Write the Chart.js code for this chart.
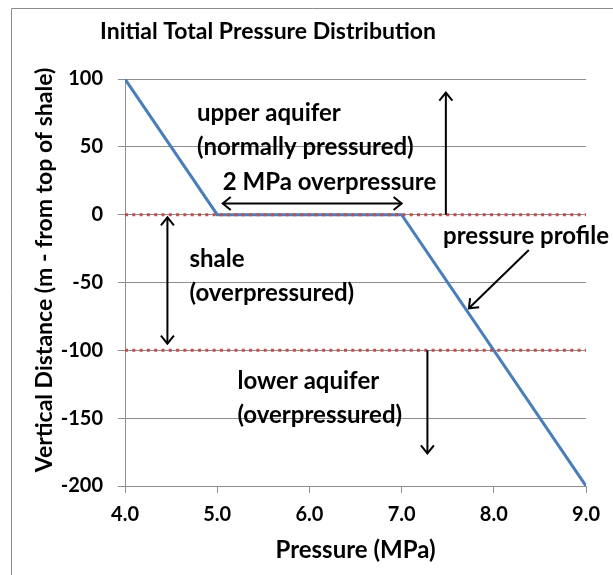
<!DOCTYPE html>
<html>
<head>
<meta charset="utf-8">
<script src="https://cdn.jsdelivr.net/npm/chart.js@4.4.1/dist/chart.umd.min.js"></script>
<style>
    body { margin: 0; background: #ffffff; }
    #wrap { width: 613px; height: 575px; }
</style>
</head>
<body>
<div id="wrap"><canvas id="pressureChart" width="613" height="575"></canvas></div>
<script>
// Pressure profile (MPa vs m from top of shale)
const profilePressure = [4.0, 5.0, 7.0, 9.0];
const profileDepth = [100, 0, 0, -200];

// Formation boundaries (dotted red lines)
const boundaryPressure = [4.0, 9.0];
const shaleTop = [0, 0];
const shaleBottom = [-100, -100];

// Axis ticks
const xTicks = [4.0, 5.0, 6.0, 7.0, 8.0, 9.0];
const yTicks = [100, 50, 0, -50, -100, -150, -200];

// Annotation labels: [text, pressure, depth]
const labelText = ["upper aquifer", "(normally pressured)", "2 MPa overpressure",
    "shale", "(overpressured)", "lower aquifer", "(overpressured)", "pressure profile"];
const labelX = [4.78, 4.78, 5.06, 4.70, 4.70, 5.22, 5.22, 7.45];
const labelY = [74.5, 49.4, 23.6, -33, -58, -123, -148, -16];

// Arrows: from (x1,y1) to (x2,y2), heads at start and/or end
const arrowX1 = [4.46, 5.06, 7.48, 7.28, 8.38];
const arrowY1 = [-2, 8.3, 0, -100, -26];
const arrowX2 = [4.46, 7.0, 7.48, 7.28, 7.73];
const arrowY2 = [-95, 8.3, 90, -176, -69];
const arrowStart = [true, true, false, false, false];

const FONT = "Lato, 'Open Sans', sans-serif";

function toPoints(xs, ys) {
    return xs.map((x, i) => ({ x: x, y: ys[i] }));
}

function drawHead(ctx, fromX, fromY, tipX, tipY) {
    const ang = Math.atan2(tipY - fromY, tipX - fromX);
    const len = 8, half = 6.5;
    const bx = tipX - len * Math.cos(ang), by = tipY - len * Math.sin(ang);
    const nx = -Math.sin(ang) * half, ny = Math.cos(ang) * half;
    ctx.beginPath();
    ctx.moveTo(bx + nx, by + ny);
    ctx.lineTo(tipX, tipY);
    ctx.lineTo(bx - nx, by - ny);
    ctx.stroke();
}

const decorations = {
    id: "decorations",
    afterDraw(chart) {
        const ctx = chart.ctx;
        const xs = chart.scales.x;
        const ys = chart.scales.y;
        const area = chart.chartArea;

        ctx.save();

        // outer frame (only left and top visible)
        ctx.strokeStyle = "#8c8c8c";
        ctx.lineWidth = 1;
        ctx.beginPath();
        ctx.moveTo(11.5, 580);
        ctx.lineTo(11.5, 8.5);
        ctx.lineTo(620, 8.5);
        ctx.stroke();

        ctx.fillStyle = "#000000";

        // title
        ctx.font = "bold 23px " + FONT;
        ctx.textAlign = "center";
        ctx.textBaseline = "middle";
        ctx.fillText("Initial Total Pressure Distribution", 268, 32);

        // axis titles
        ctx.font = "bold 24px " + FONT;
        ctx.fillText("Pressure (MPa)", (area.left + area.right) / 2, 550);
        ctx.font = "bold 23px " + FONT;
        ctx.save();
        ctx.translate(45, 270);
        ctx.rotate(-Math.PI / 2);
        ctx.fillText("Vertical Distance (m - from top of shale)", 0, 0);
        ctx.restore();

        // annotation texts
        ctx.font = "bold 24px " + FONT;
        ctx.textAlign = "left";
        labelText.forEach((t, i) => {
            ctx.fillText(t, xs.getPixelForValue(labelX[i]), ys.getPixelForValue(labelY[i]));
        });

        // arrows
        ctx.strokeStyle = "#000000";
        ctx.lineWidth = 2;
        arrowX1.forEach((x1, i) => {
            const px1 = xs.getPixelForValue(x1), py1 = ys.getPixelForValue(arrowY1[i]);
            const px2 = xs.getPixelForValue(arrowX2[i]), py2 = ys.getPixelForValue(arrowY2[i]);
            ctx.beginPath();
            ctx.moveTo(px1, py1);
            ctx.lineTo(px2, py2);
            ctx.stroke();
            drawHead(ctx, px1, py1, px2, py2);
            if (arrowStart[i]) drawHead(ctx, px2, py2, px1, py1);
        });

        ctx.restore();
    }
};

new Chart(
    document.getElementById("pressureChart"),
    {
        type: "scatter",

        data: {
            datasets: [
                {
                    label: "Top of shale",
                    data: toPoints(boundaryPressure, shaleTop),
                    showLine: true,
                    borderColor: "#c0504d",
                    borderWidth: 3,
                    borderDash: [3, 4.3],
                    pointRadius: 0,
                    order: 0
                },
                {
                    label: "Bottom of shale",
                    data: toPoints(boundaryPressure, shaleBottom),
                    showLine: true,
                    borderColor: "#c0504d",
                    borderWidth: 3,
                    borderDash: [3, 4.3],
                    pointRadius: 0,
                    order: 0
                },
                {
                    label: "Pressure profile",
                    data: toPoints(profilePressure, profileDepth),
                    showLine: true,
                    borderColor: "#4a7ebb",
                    borderWidth: 3,
                    pointRadius: 0,
                    order: 1
                }
            ]
        },

        options: {
            responsive: false,
            animation: false,

            layout: {
                padding: { left: 0, top: 79, right: 27, bottom: 0 }
            },

            plugins: {
                legend: { display: false },
                tooltip: { enabled: false }
            },

            scales: {
                x: {
                    type: "linear",
                    min: 4,
                    max: 9,
                    afterBuildTicks: scale => {
                        scale.ticks = xTicks.map(v => ({ value: v }));
                    },
                    afterFit: scale => { scale.height = 89; },
                    ticks: {
                        padding: 10,
                        color: "#000000",
                        font: { family: FONT, size: 20, weight: "bold" },
                        callback: v => Number(v).toFixed(1)
                    },
                    grid: {
                        drawOnChartArea: false,
                        drawTicks: true,
                        tickLength: 7,
                        color: "#8e8e8e"
                    },
                    border: { color: "#8e8e8e" }
                },
                y: {
                    type: "linear",
                    min: -200,
                    max: 100,
                    afterBuildTicks: scale => {
                        scale.ticks = yTicks.map(v => ({ value: v }));
                    },
                    afterFit: scale => { scale.width = 125; },
                    ticks: {
                        padding: 15,
                        color: "#000000",
                        font: { family: FONT, size: 20, weight: "bold" }
                    },
                    grid: {
                        tickLength: 7,
                        color: "#8e8e8e"
                    },
                    border: { color: "#8e8e8e" }
                }
            }
        },

        plugins: [decorations]
    }
);
</script>
</body>
</html>
